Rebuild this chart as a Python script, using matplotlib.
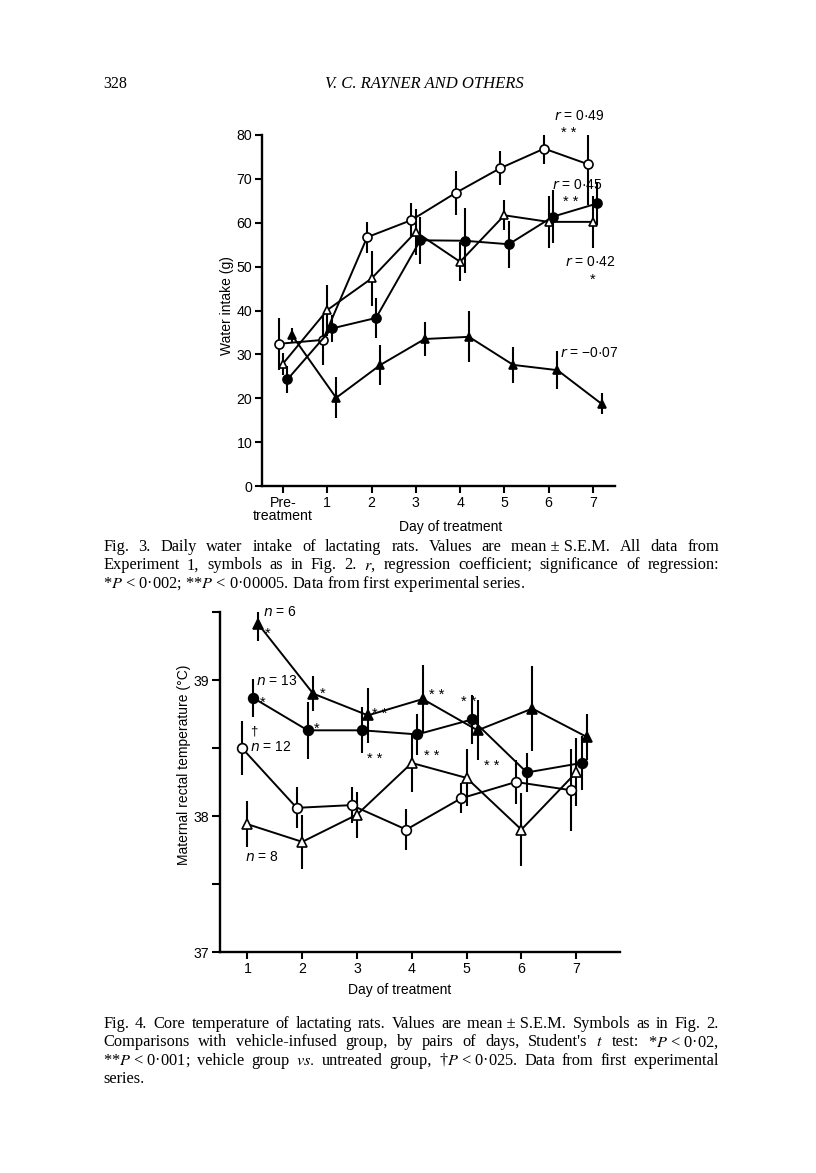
import matplotlib
matplotlib.use("Agg")
import matplotlib.pyplot as plt

plt.rcParams['font.family'] = ['Liberation Sans', 'DejaVu Sans']
plt.rcParams['font.size'] = 10

# Fig. 3 - daily water intake (g), mean and s.e.m.
intake_days = [0, 1, 2, 3, 4, 5, 6, 7]
intake_ticklabels = ['Pre-\ntreatment', '1', '2', '3', '4', '5', '6', '7']
intake_open_circle = [32.4, 33.3, 56.7, 60.6, 66.8, 72.4, 76.9, 73.3]
intake_open_circle_sem = [5.9, 5.7, 3.5, 3.9, 5.1, 3.9, 3.4, 9.3]
intake_filled_circle = [24.3, 35.9, 38.3, 56.0, 55.9, 55.1, 61.4, 64.4]
intake_filled_circle_sem = [3.0, 3.0, 4.5, 5.4, 7.4, 5.4, 6.0, 4.9]
intake_open_tri = [27.9, 40.1, 47.3, 57.9, 51.1, 61.7, 60.2, 60.2]
intake_open_tri_sem = [2.5, 5.8, 6.3, 5.3, 4.4, 3.4, 6.0, 6.0]
intake_filled_tri = [34.4, 20.1, 27.6, 33.5, 34.0, 27.6, 26.4, 18.7]
intake_filled_tri_sem = [1.5, 4.7, 4.5, 3.8, 5.8, 4.1, 4.3, 2.4]

# Fig. 4 - maternal rectal temperature (deg C), mean and s.e.m.
temp_days = [1, 2, 3, 4, 5, 6, 7]
temp_open_circle = [38.50, 38.06, 38.08, 37.90, 38.13, 38.25, 38.19]
temp_open_circle_sem = [0.20, 0.15, 0.13, 0.15, 0.11, 0.16, 0.30]
temp_filled_circle = [38.87, 38.63, 38.63, 38.60, 38.71, 38.32, 38.39]
temp_filled_circle_sem = [0.14, 0.21, 0.17, 0.15, 0.18, 0.14, 0.20]
temp_open_tri = [37.94, 37.81, 38.01, 38.39, 38.28, 37.90, 38.32]
temp_open_tri_sem = [0.17, 0.20, 0.17, 0.21, 0.21, 0.27, 0.25]
temp_filled_tri = [39.41, 38.90, 38.74, 38.86, 38.63, 38.79, 38.58]
temp_filled_tri_sem = [0.12, 0.13, 0.20, 0.25, 0.22, 0.31, 0.17]

# non-breaking spaces keep groups together when lines are justified
fig3_caption = [
    "Fig. 3. Daily water intake of lactating rats. Values are mean\u00a0±\u00a0S.E.M. All data from",
    "Experiment 1, symbols as in Fig. 2. $r$, regression coefficient; significance of regression:",
    "*$P$\u00a0<\u00a00·002; **$P$\u00a0<\u00a00·00005. Data from first experimental series.",
]
fig4_caption = [
    "Fig. 4. Core temperature of lactating rats. Values are mean\u00a0±\u00a0S.E.M. Symbols as in Fig. 2.",
    "Comparisons with vehicle-infused group, by pairs of days, Student's $t$ test: *$P$\u00a0<\u00a00·02,",
    "**$P$\u00a0<\u00a00·001; vehicle group $vs.$ untreated group, †$P$\u00a0<\u00a00·025. Data from first experimental",
    "series.",
]

W, H = 816, 1173


def px_axes(fig, left, top, right, bottom):
    return fig.add_axes([left / W, 1 - bottom / H, (right - left) / W, (bottom - top) / H])


def style_axes(ax):
    for s in ['top', 'right']:
        ax.spines[s].set_visible(False)
    for s in ['left', 'bottom']:
        ax.spines[s].set_linewidth(1.7)
    ax.tick_params(direction='out', length=5, width=1.5, pad=2, labelsize=10.2)


def series(ax, x, y, e, offset, marker, filled, ms):
    xs = [v + offset for v in x]
    ax.errorbar(xs, y, yerr=e, fmt='-' + marker, color='k', lw=1.4,
                elinewidth=1.5, capsize=0, ms=ms, mew=1.2,
                mfc='k' if filled else 'white', mec='k', zorder=3)


def justify(fig, lines, x0, x1, y0, dy, size):
    r = fig.canvas.get_renderer()
    kw = dict(fontsize=size, family='Liberation Serif', math_fontfamily='stix', va='baseline')
    for i, line in enumerate(lines):
        y = 1 - (y0 + i * dy) / H
        words = line.split(' ')
        if i == len(lines) - 1:
            fig.text(x0 / W, y, line, **kw)
            continue
        texts = [fig.text(0, y, w, **kw) for w in words]
        widths = [t.get_window_extent(r).width for t in texts]
        gap = (x1 - x0 - sum(widths)) / (len(words) - 1)
        x = x0
        for t, w in zip(texts, widths):
            t.set_x(x / W)
            x += w + gap


fig = plt.figure(figsize=(W / 100, H / 100), dpi=100)

# page header
fig.text(103 / W, 1 - 88 / H, '328', family='Liberation Serif', fontsize=11.5)
fig.text(424 / W, 1 - 88 / H, 'V. C. RAYNER AND OTHERS', family='Liberation Serif',
         style='italic', fontsize=12, ha='center')

# ---- Fig. 3 ----
ax1 = px_axes(fig, 262, 135, 615, 486)
style_axes(ax1)
series(ax1, intake_days, intake_open_circle, intake_open_circle_sem, -0.1, 'o', False, 6.5)
series(ax1, intake_days, intake_filled_circle, intake_filled_circle_sem, 0.1, 'o', True, 6.5)
series(ax1, intake_days, intake_open_tri, intake_open_tri_sem, 0.0, '^', False, 6)
series(ax1, intake_days, intake_filled_tri, intake_filled_tri_sem, 0.2, '^', True, 6)
ax1.set_xlim(-0.475, 7.5)
ax1.set_ylim(0, 80)
ax1.set_yticks(range(0, 81, 10))
ax1.set_xticks(intake_days)
ax1.set_xticklabels(intake_ticklabels, linespacing=0.95)
fig.text(227 / W, 1 - 306 / H, 'Water intake (g)', rotation=90,
         ha='center', va='center', fontsize=10)
fig.text(451 / W, 1 - 531 / H, 'Day of treatment', ha='center', fontsize=10)
ax1.text(6.7, 83.5, '$r$ = 0·49', ha='center', fontsize=10, clip_on=False)
ax1.text(6.45, 79.6, '* *', ha='center', fontsize=10.5, clip_on=False)
ax1.text(6.65, 67.8, '$r$ = 0·45', ha='center', fontsize=10)
ax1.text(6.5, 63.9, '* *', ha='center', fontsize=10.5)
ax1.text(6.95, 50.2, '$r$ = 0·42', ha='center', fontsize=10)
ax1.text(7.0, 46.1, '*', ha='center', fontsize=10.5)
ax1.text(6.25, 29.3, '$r$ = −0·07', ha='left', fontsize=10)

# ---- Fig. 4 ----
ax2 = px_axes(fig, 220, 612, 620, 952)
style_axes(ax2)
series(ax2, temp_days, temp_open_circle, temp_open_circle_sem, -0.1, 'o', False, 7)
series(ax2, temp_days, temp_filled_circle, temp_filled_circle_sem, 0.1, 'o', True, 7)
series(ax2, temp_days, temp_open_tri, temp_open_tri_sem, 0.0, '^', False, 6.5)
series(ax2, temp_days, temp_filled_tri, temp_filled_tri_sem, 0.2, '^', True, 6.5)
ax2.set_xlim(0.5, 7.8)
ax2.set_ylim(37, 39.5)
ax2.set_yticks([37, 37.5, 38, 38.5, 39, 39.5])
ax2.set_yticklabels(['37', '', '38', '', '39', ''])
ax2.set_xticks(temp_days)
ax2.tick_params(axis='y', length=6)
fig.text(184 / W, 1 - 765 / H, 'Maternal rectal temperature (°C)', rotation=90,
         ha='center', va='center', fontsize=10)
fig.text(400 / W, 1 - 994 / H, 'Day of treatment', ha='center', fontsize=10)

ax2.text(1.28, 39.47, '$n$ = 6', fontsize=10)
ax2.text(1.31, 39.31, '*', fontsize=10.5)
ax2.text(1.16, 38.96, '$n$ = 13', fontsize=10)
ax2.text(1.22, 38.80, '*', fontsize=10.5)
ax2.text(1.05, 38.60, '†', fontsize=9.5)
ax2.text(1.05, 38.48, '$n$ = 12', fontsize=10)
ax2.text(0.95, 37.67, '$n$ = 8', fontsize=10)
ax2.text(2.32, 38.87, '*', fontsize=10.5)
ax2.text(2.22, 38.61, '*', fontsize=10.5)
ax2.text(3.42, 38.72, '* *', ha='center', fontsize=10.5)
ax2.text(3.32, 38.39, '* *', ha='center', fontsize=10.5)
ax2.text(4.45, 38.86, '* *', ha='center', fontsize=10.5)
ax2.text(4.36, 38.41, '* *', ha='center', fontsize=10.5)
ax2.text(5.03, 38.81, '* *', ha='center', fontsize=10.5)
ax2.text(5.46, 38.34, '* *', ha='center', fontsize=10.5)

# captions
justify(fig, fig3_caption, 103, 719, 551, 18.3, 11.8)
justify(fig, fig4_caption, 103, 719, 1028, 18.3, 11.8)

fig.savefig('out.png', dpi=100)
